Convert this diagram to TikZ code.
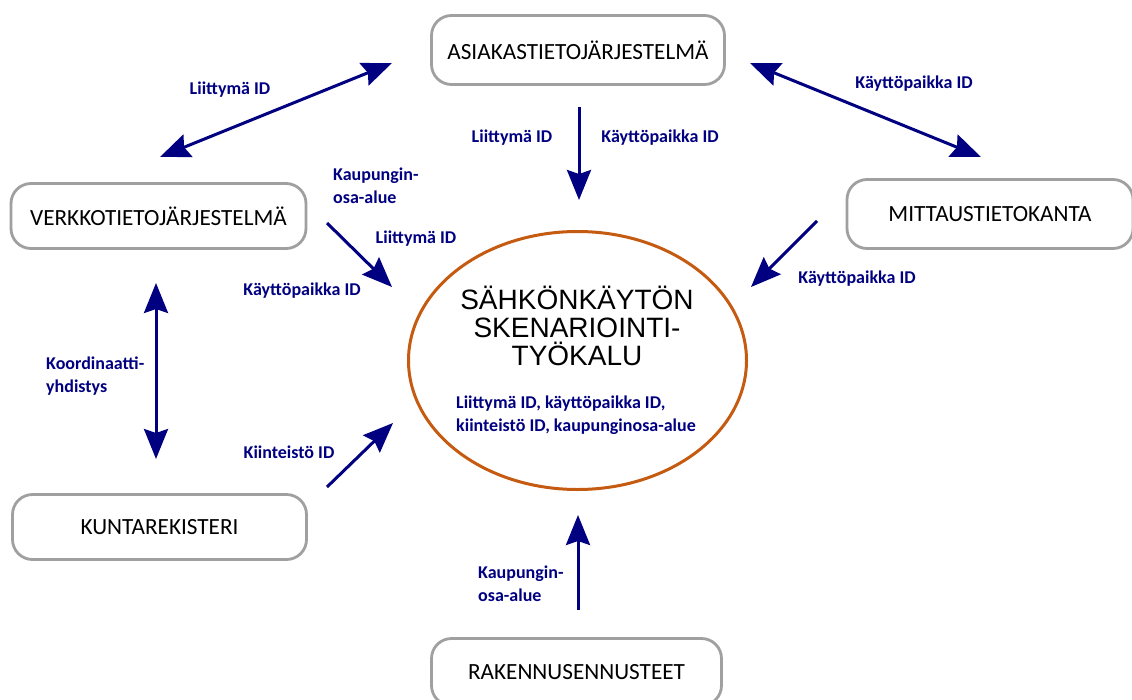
\documentclass[tikz,border=0pt]{standalone}
\usepackage{fontspec}
\setmainfont{Carlito}
\newfontfamily\arialfont{Liberation Sans}
\usetikzlibrary{arrows.meta,shapes.geometric}
\definecolor{navyarrow}{RGB}{0,0,128}
\definecolor{ellorange}{RGB}{197,90,17}
\definecolor{boxgray}{RGB}{160,160,160}
\tikzset{
  sysbox/.style={draw=boxgray,line width=2.8pt,rounded corners=20pt,fill=white,inner sep=0pt,font=\fontsize{23.2}{26}\selectfont},
  flow/.style={line width=3pt,color=navyarrow,-{Stealth[length=30pt,width=24pt,inset=4pt]}},
  flowtwo/.style={flow,{Stealth[length=30pt,width=24pt,inset=4pt]}-{Stealth[length=30pt,width=24pt,inset=4pt]}},
  idlabel/.style={color=navyarrow,font=\bfseries\fontsize{18}{22.5}\selectfont,align=left,inner sep=0pt}
}
\begin{document}
\begin{tikzpicture}[x=1pt,y=-1pt]

\useasboundingbox (0,0) rectangle (1132,699);

\node[sysbox,minimum width=293pt,minimum height=69pt] (asiakas) at (578,50) {ASIAKASTIETOJÄRJESTELMÄ};
\node[sysbox,minimum width=295pt,minimum height=65pt] (verkko) at (158.5,216) {VERKKOTIETOJÄRJESTELMÄ};
\node[sysbox,minimum width=286pt,minimum height=69pt] (mittaus) at (990,214) {MITTAUSTIETOKANTA};
\node[sysbox,minimum width=294pt,minimum height=65pt] (kunta) at (159.5,527) {KUNTAREKISTERI};
\node[sysbox,minimum width=290pt,minimum height=67pt] (rakennus) at (576.5,672) {RAKENNUSENNUSTEET};

\node[draw=ellorange,line width=3pt,ellipse,minimum width=338pt,minimum height=258pt] (tyokalu) at (577.5,360.5) {};
\node[font=\arialfont\fontsize{28}{28}\selectfont,align=center,inner sep=0pt] (otsikko) at (577,326) {SÄHKÖNKÄYTÖN\\SKENARIOINTI-\\TYÖKALU};
\node[idlabel,anchor=west] (tunnisteet) at (456,415) {Liittymä ID, käyttöpaikka ID,\\kiinteistö ID, kaupunginosa-alue};

\coordinate (a1) at (392,63);   \coordinate (v1) at (160,157);
\coordinate (a2) at (750,63);   \coordinate (m1) at (981,157);
\coordinate (a3) at (579,107);  \coordinate (t1) at (579,200);
\coordinate (v2) at (327,223);  \coordinate (t2) at (392,287);
\coordinate (m2) at (817,221);  \coordinate (t3) at (751,287);
\coordinate (v3) at (156,283);  \coordinate (k1) at (156,459);
\coordinate (k2) at (327,487);  \coordinate (t4) at (393,423);
\coordinate (r1) at (578,610);  \coordinate (t5) at (578,515);

\draw[flowtwo] (v1)--(a1);
\draw[flowtwo] (a2)--(m1);
\draw[flow] (a3)--(t1);
\draw[flow] (v2)--(t2);
\draw[flow] (m2)--(t3);
\draw[flowtwo] (v3)--(k1);
\draw[flow] (k2)--(t4);
\draw[flow] (r1)--(t5);

\node[idlabel] (l1) at (230,90) {Liittymä ID};
\node[idlabel] (l2) at (512,138) {Liittymä ID};
\node[idlabel] (l3) at (660,138) {Käyttöpaikka ID};
\node[idlabel] (l4) at (914,84) {Käyttöpaikka ID};
\node[idlabel,anchor=west] (l5) at (333,185.5) {Kaupungin-\\osa-alue};
\node[idlabel] (l6) at (416,239) {Liittymä ID};
\node[idlabel] (l7) at (302,291) {Käyttöpaikka ID};
\node[idlabel] (l8) at (857,279) {Käyttöpaikka ID};
\node[idlabel,anchor=west] (l9) at (46,376) {Koordinaatti-\\yhdistys};
\node[idlabel] (l10) at (289,452) {Kiinteistö ID};
\node[idlabel,anchor=west] (l11) at (478,583.5) {Kaupungin-\\osa-alue};

\end{tikzpicture}
\end{document}
